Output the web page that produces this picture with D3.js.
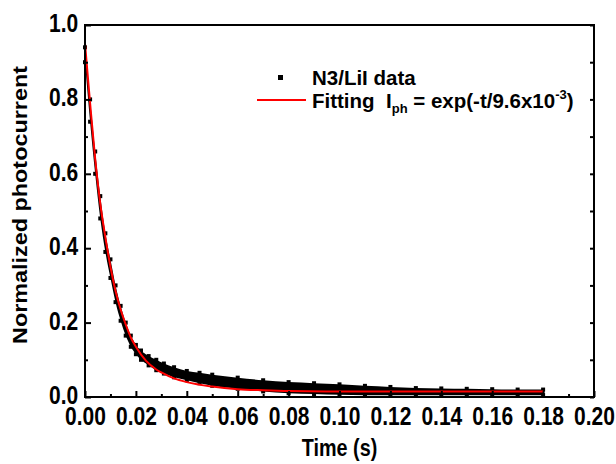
<!DOCTYPE html>
<html><head><meta charset="utf-8">
<script src="https://cdn.jsdelivr.net/npm/d3@7/dist/d3.min.js"></script>
<style>body{margin:0;background:#fff}svg{display:block}text{font-family:"Liberation Sans",Arial,sans-serif;font-weight:bold}</style>
</head><body><svg id="c" width="616" height="464"></svg>
<script>
// Data
const dataT  = [0,0.002,0.004,0.006,0.008,0.010,0.012,0.014,0.016,0.018,0.020,0.022,0.025,0.028,0.031,0.035,0.040,0.045,0.050,0.060,0.070,0.080,0.090,0.100,0.110,0.120,0.130,0.140,0.150,0.160,0.170,0.180];
const dataHi = [0.94,0.80,0.66,0.54,0.44,0.37,0.30,0.245,0.20,0.165,0.14,0.125,0.11,0.10,0.09,0.08,0.07,0.065,0.06,0.052,0.045,0.04,0.037,0.034,0.030,0.027,0.024,0.023,0.022,0.021,0.020,0.020];
const dataLo = [0.90,0.74,0.60,0.48,0.39,0.32,0.255,0.205,0.165,0.135,0.115,0.10,0.085,0.072,0.063,0.053,0.045,0.037,0.030,0.022,0.015,0.010,0.008,0.006,0.005,0.005,0.005,0.005,0.005,0.005,0.005,0.005];
const fitT = [0,0.002,0.004,0.006,0.008,0.010,0.012,0.014,0.016,0.018,0.020,0.024,0.028,0.030,0.035,0.040,0.050,0.060,0.070,0.080,0.100,0.120,0.140,0.160,0.180];
const fitV = [0.95,0.79,0.64,0.52,0.43,0.35,0.285,0.235,0.195,0.16,0.135,0.097,0.074,0.066,0.05,0.04,0.028,0.021,0.018,0.016,0.015,0.015,0.015,0.015,0.015];
const xTicks = [0,0.02,0.04,0.06,0.08,0.10,0.12,0.14,0.16,0.18,0.20];
const yTicks = [0,0.2,0.4,0.6,0.8,1.0];
const xMinor = [0.01,0.03,0.05,0.07,0.09,0.11,0.13,0.15,0.17,0.19];
const yMinor = [0.1,0.3,0.5,0.7,0.9];

const svg = d3.select("#c");
const L=85,R=594,T=25,B=397;
const x = d3.scaleLinear().domain([0,0.2]).range([L,R]);
const y = d3.scaleLinear().domain([0,1]).range([B,T]);

const pts = dataT.map((t,i)=>({t,hi:dataHi[i],lo:dataLo[i]}));
svg.append("path").datum(pts)
  .attr("d", d3.area().x(d=>x(d.t)).y0(d=>y(d.lo)).y1(d=>y(d.hi)).curve(d3.curveMonotoneX))
  .attr("fill","#000");
const sq=4;
svg.append("g").selectAll("rect").data(pts.flatMap(d=>[{t:d.t,v:d.hi},{t:d.t,v:d.lo}]))
  .join("rect").attr("x",d=>x(d.t)-sq/2).attr("y",d=>y(d.v)-sq/2).attr("width",sq).attr("height",sq).attr("fill","#000");

svg.append("path").datum(fitT.map((t,i)=>[t,fitV[i]]))
  .attr("d", d3.line().x(d=>x(d[0])).y(d=>y(d[1])).curve(d3.curveMonotoneX))
  .attr("fill","none").attr("stroke","#ff0000").attr("stroke-width",2);

const SX=0.84;
const gx = svg.append("g").attr("transform",`translate(0,${B})`)
  .call(d3.axisBottom(x).tickValues(xTicks).tickSize(-6).tickFormat(d3.format(".2f")).tickPadding(10));
const gxm = svg.append("g").attr("transform",`translate(0,${B})`)
  .call(d3.axisBottom(x).tickValues(xMinor).tickSize(-3).tickFormat(""));
const gy = svg.append("g").attr("transform",`translate(${L},0)`)
  .call(d3.axisLeft(y).tickValues(yTicks).tickSize(-6).tickFormat(d3.format(".1f")).tickPadding(8));
const gym = svg.append("g").attr("transform",`translate(${L},0)`)
  .call(d3.axisLeft(y).tickValues(yMinor).tickSize(-3).tickFormat(""));
const gr = svg.append("g").attr("transform",`translate(${R},0)`)
  .call(d3.axisRight(y).tickValues(yTicks.concat(yMinor)).tickSize(-4).tickFormat(""));
[gx,gxm,gy,gym,gr].forEach(g=>{g.select(".domain").remove();g.selectAll("line").attr("stroke","#000").attr("stroke-width",2);});
[gx,gy].forEach(g=>g.selectAll("text").attr("font-size",25).attr("fill","#000").attr("transform",`scale(${SX},1)`));
gy.selectAll("text").attr("dy","0.26em");
svg.append("rect").attr("x",L).attr("y",T).attr("width",R-L).attr("height",B-T)
  .attr("fill","none").attr("stroke","#000").attr("stroke-width",2);

svg.append("text").attr("transform",`translate(${(L+R)/2},456) scale(0.86,1)`).attr("text-anchor","middle").attr("font-size",23).text("Time (s)");
svg.append("text").attr("transform",`translate(27,205) rotate(-90) scale(1.2,1)`).attr("text-anchor","middle").attr("font-size",19.5).text("Normalized photocurrent");

svg.append("rect").attr("x",278).attr("y",75).attr("width",5).attr("height",5).attr("fill","#000");
svg.append("text").attr("x",312).attr("y",85).attr("font-size",20.5).text("N3/LiI data");
svg.append("line").attr("x1",257).attr("x2",306).attr("y1",100).attr("y2",100).attr("stroke","#ff0000").attr("stroke-width",2);
const lt = svg.append("text").attr("x",312).attr("y",108).attr("font-size",20.5);
lt.append("tspan").text("Fitting\u00a0\u00a0I");
lt.append("tspan").attr("font-size",13).attr("dy",5).text("ph");
lt.append("tspan").attr("dy",-5).text(" = exp(-t/9.6x10");
lt.append("tspan").attr("font-size",13).attr("dy",-9).text("-3");
lt.append("tspan").attr("dy",9).text(")");
</script></body></html>
